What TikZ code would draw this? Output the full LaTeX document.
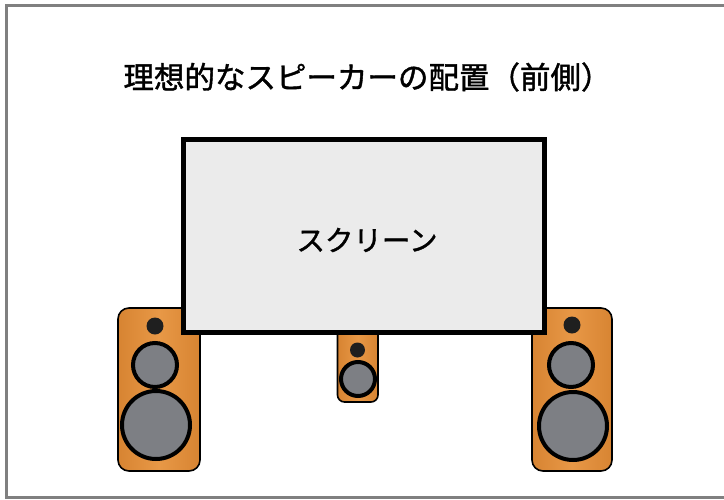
\documentclass[tikz,border=0pt]{standalone}
\usepackage{fontspec}
\newfontfamily\jpfont[FakeBold=1.4]{Noto Sans CJK JP}
\definecolor{framegray}{RGB}{128,128,128}
\definecolor{screenfill}{RGB}{235,235,235}
\definecolor{woodlight}{RGB}{232,152,70}
\definecolor{wooddark}{RGB}{215,132,50}
\definecolor{conegray}{RGB}{125,127,132}
\tikzset{
  cabinet/.style={draw=black, line width=1.6pt, rounded corners=11pt,
    left color=wooddark, right color=wooddark, middle color=woodlight},
  tweeter/.style={circle, fill=black!88, draw=none, inner sep=0pt},
  driver/.style={circle, fill=conegray, draw=black, line width=4pt, inner sep=0pt},
  screenbox/.style={draw=black, line width=5pt, fill=screenfill},
  heading/.style={font=\jpfont\fontsize{30.5}{36}\selectfont},
  screenlabel/.style={font=\jpfont\fontsize{28.5}{33}\selectfont}
}
\begin{document}
\begin{tikzpicture}[x=1pt,y=-1pt]
  \useasboundingbox (0,0) rectangle (724,499);
  \fill[white] (0,0) rectangle (724,499);
  % outer frame (right side runs off the page)
  \draw[framegray, line width=3pt] (740,5.5) -- (6.5,5.5) -- (6.5,497.5) -- (740,497.5);

  % heading
  \node[heading] (title) at (367.5,77) {理想的なスピーカーの配置（前側）};

  % left front speaker
  \draw[cabinet] (118,308) rectangle (200,471);
  \node[tweeter, minimum size=17pt] (ltw) at (155,326) {};
  \node[driver, minimum size=44pt] (lmid) at (155,365) {};
  \node[driver, minimum size=68pt] (lwoof) at (156,425) {};

  % right front speaker
  \draw[cabinet] (532,308) rectangle (612,471);
  \node[tweeter, minimum size=17pt] (rtw) at (572,325) {};
  \node[driver, minimum size=44pt] (rmid) at (571,365) {};
  \node[driver, minimum size=68pt] (rwoof) at (573,426) {};

  % centre speaker
  \draw[cabinet, rounded corners=7pt] (337.5,320) rectangle (378,402);
  \node[tweeter, minimum size=15pt] (ctw) at (357.5,350) {};
  \node[driver, minimum size=34pt] (cwoof) at (358,379) {};

  % screen in front of the speakers
  \draw[screenbox] (183.5,139.5) rectangle (544.5,332.5);
  \node[screenlabel] (scr) at (367,240) {スクリーン};
\end{tikzpicture}
\end{document}
